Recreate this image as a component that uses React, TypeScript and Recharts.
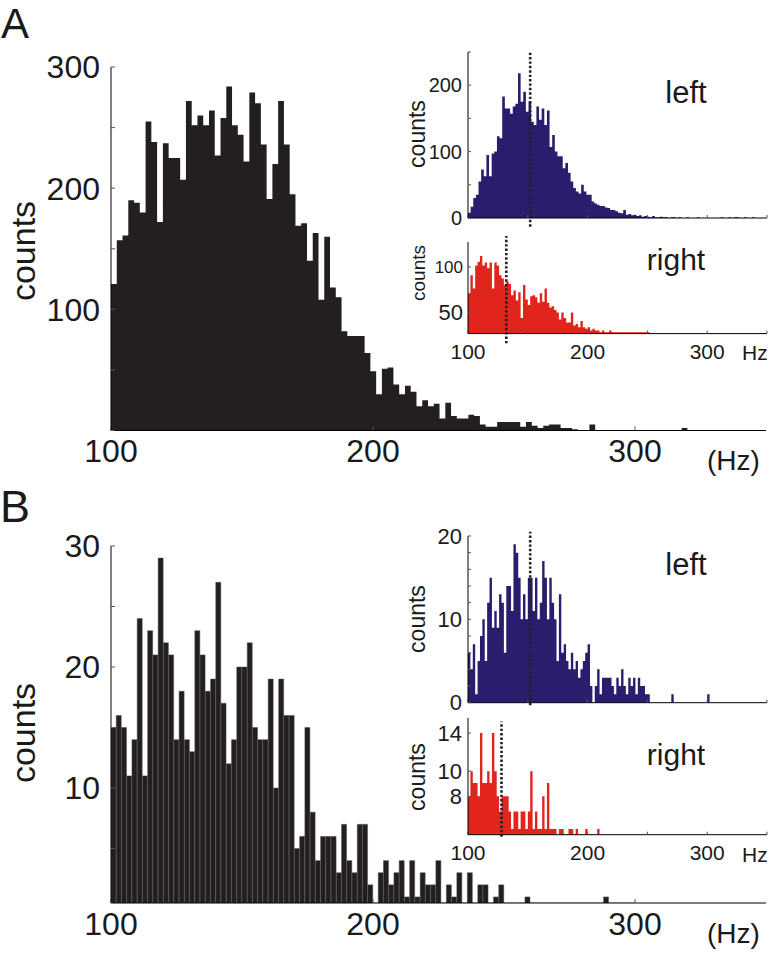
import React from 'react';
import { ComposedChart, Bar, Area, XAxis, YAxis, ReferenceLine } from 'recharts';

const FONT = '"Liberation Sans", Arial, Helvetica, sans-serif';
const INK = '#1a1a1a';

// #region histogram counts
// panel A uses 2.2 Hz bins, panel B and the red insets 2 Hz bins (all start at 100 Hz)
const aMainCounts = [
  121, 157, 161, 190, 188, 180, 255, 238, 172, 237,
  225, 225, 207, 272, 252, 260, 252, 264, 227, 258,
  284, 252, 244, 222, 279, 270, 236, 191, 220, 272,
  236, 195, 169, 171, 140, 163, 108, 160, 118, 110,
  82, 78, 78, 78, 64, 49, 30, 51, 52, 38,
  30, 37, 32, 20, 25, 20, 22, 10, 23, 12,
  10, 10, 13, 12, 5, 3, 3, 7, 7, 7,
  7, 3, 7, 4, 2, 4, 5, 5, 2, 2,
  1, 0, 0, 5, 0, 0, 0, 0, 0, 0,
  0, 0, 0, 0, 0, 0, 0, 0, 0, 2,
];
const aLeftCounts = [
  8, 17, 30, 35, 55, 73, 63, 95, 63, 97,
  100, 123, 120, 183, 165, 165, 157, 168, 172, 218,
  175, 190, 160, 175, 145, 140, 168, 148, 165, 140,
  162, 107, 125, 100, 93, 93, 75, 83, 68, 55,
  45, 40, 37, 50, 40, 35, 35, 25, 22, 20,
  18, 18, 16, 15, 12, 12, 10, 8, 7, 12,
  5, 6, 4, 5, 3, 4, 2, 3, 2, 1,
  3, 1, 1, 2, 1, 1, 0, 1, 1, 0,
  1, 0, 0, 1, 0, 0, 0, 1, 0, 0,
  0, 0, 0, 0, 0, 0, 1, 0, 0, 1,
  0, 1, 1, 0, 0, 1, 0, 0, 1, 0,
  0, 0,
];
const aRightCounts = [
  67, 88, 72, 102, 108, 118, 102, 107, 98, 107,
  72, 107, 102, 88, 84, 76, 80, 77, 65, 70,
  60, 68, 46, 76, 61, 56, 64, 65, 63, 58,
  67, 59, 72, 58, 54, 55, 52, 50, 45, 50,
  46, 43, 43, 50, 41, 42, 40, 44, 40, 39,
  40, 38, 39, 38, 38, 37, 38, 37, 37, 38,
  37, 37, 37, 37, 37, 37, 37, 37, 37, 37,
  37, 37, 37, 37, 37, 37,
];
const bMainCounts = [
  15, 16, 15, 11, 14, 24, 11, 23, 21, 29,
  22, 21, 14, 18, 14, 13, 23, 21, 18, 19,
  27, 17, 12, 14, 20, 20, 22, 15, 14, 14,
  19, 10, 19, 16, 16, 5, 6, 15, 8, 4,
  6, 6, 6, 3, 7, 4, 3, 7, 7, 2,
  0, 3, 4, 2, 3, 4, 1, 4, 1, 3,
  2, 2, 4, 0, 2, 1, 3, 0, 3, 0,
  2, 2, 0, 1, 2, 0, 0, 0, 0, 1,
  0, 0, 0, 0, 0, 0, 0, 0, 0, 0,
  0, 0, 0, 0, 1, 0, 0, 0, 0, 0,
];
const bLeftCounts = [
  6, 4, 7, 1, 5, 8, 10, 5, 12, 15,
  9, 11, 9, 13, 12, 6, 14, 14, 11, 19,
  18, 15, 10, 13, 10, 15, 15, 11, 15, 10,
  12, 17, 15, 10, 15, 12, 10, 5, 13, 6,
  7, 5, 4, 6, 4, 5, 3, 4, 5, 6,
  7, 2, 0, 2, 4, 1, 3, 3, 3, 3,
  2, 1, 3, 2, 4, 2, 1, 3, 2, 3,
  1, 3, 2, 2, 1, 1, 0, 0, 0, 0,
  0, 0, 0, 0, 0, 1, 0, 0, 0, 0,
  0, 0, 0, 0, 0, 0, 0, 0, 0, 0,
  1,
];
const bRightCounts = [
  8, 10, 9, 9, 8, 14, 9, 9, 10, 9,
  14, 10, 8, 7, 8, 8, 8, 7, 6, 7,
  7, 6, 7, 7, 6, 7, 10, 6, 7, 6,
  6, 8, 6, 9, 6, 6, 6, 5, 6, 6,
  5, 5, 6, 6, 5, 6, 5, 5, 5, 6,
  5, 5, 5, 5, 6,
];
// #endregion

// dotted marker positions (Hz)
const markers = { aLeft: 152, aRight: 132, bLeft: 152, bRight: 128 };

const mainXTicks = [100, 200, 300];
const insetXTicks = [100, 150, 200, 250, 300, 350];

// bars: one point per bin centre
const toBins = (counts: number[], start: number, width: number) =>
  counts.map((c, i) => ({ f: start + (i + 0.5) * width, c }));

// step outline: one point per bin edge, last bin closed on its right edge
const toSteps = (counts: number[], start: number, width: number) => [
  ...counts.map((c, i) => ({ f: start + i * width, c })),
  { f: start + counts.length * width, c: counts[counts.length - 1] },
];

type Rect = { x: number; y: number; w: number; h: number };
type Pad = { left: number; top: number; right: number; bottom: number };

type HistProps = {
  plot: Rect;
  pad: Pad;
  kind: 'bar' | 'step';
  data: { f: number; c: number }[];
  fill: string;
  stroke?: string;
  strokeWidth?: number;
  yDomain: [number, number];
  yTicks: number[];
  yLabel: (v: number) => string;
  yScale?: 'linear' | 'log';
  yFont: number;
  yTick?: any;
  xTicks: number[];
  xLabel: (v: number) => string;
  xFont: number;
  tickIn: number;
  yMargin: number;
  xMargin: number;
  marker?: { f: number; y0: number; y1: number };
};

const Hist = (p: HistProps) => {
  const width = p.pad.left + p.plot.w + p.pad.right;
  const height = p.pad.top + p.plot.h + p.pad.bottom;
  return (
    <div style={{ position: 'absolute', left: p.plot.x - p.pad.left, top: p.plot.y - p.pad.top }}>
      <ComposedChart
        width={width}
        height={height}
        data={p.data}
        margin={{ top: p.pad.top, right: p.pad.right, left: 0, bottom: 0 }}
        barCategoryGap={0}
        barGap={0}
      >
        <XAxis
          dataKey="f"
          type="number"
          domain={[100, 350]}
          allowDataOverflow
          ticks={p.xTicks}
          interval={0}
          tickFormatter={p.xLabel}
          height={p.pad.bottom}
          tickSize={-p.tickIn}
          tickMargin={p.xMargin + p.tickIn}
          stroke="#000"
          tickLine={{ stroke: '#555' }}
          tick={{ fontSize: p.xFont, fontFamily: FONT, fill: INK }}
        />
        <YAxis
          type="number"
          scale={p.yScale ?? 'linear'}
          domain={p.yDomain}
          allowDataOverflow
          ticks={p.yTicks}
          interval={0}
          tickFormatter={p.yLabel}
          width={p.pad.left}
          tickSize={-p.tickIn}
          tickMargin={p.yMargin + p.tickIn}
          stroke="#000"
          tickLine={{ stroke: '#555' }}
          tick={p.yTick ?? { fontSize: p.yFont, fontFamily: FONT, fill: INK }}
        />
        {p.kind === 'bar' ? (
          <Bar
            dataKey="c"
            fill={p.fill}
            stroke={p.stroke ?? 'none'}
            strokeWidth={p.strokeWidth ?? 0}
            isAnimationActive={false}
          />
        ) : (
          <Area
            type="stepAfter"
            dataKey="c"
            fill={p.fill}
            fillOpacity={1}
            stroke="none"
            dot={false}
            activeDot={false}
            isAnimationActive={false}
          />
        )}
        {p.marker && (
          <ReferenceLine
            segment={[
              { x: p.marker.f, y: p.marker.y0 },
              { x: p.marker.f, y: p.marker.y1 },
            ]}
            ifOverflow="visible"
            stroke="#222"
            strokeWidth={2.6}
            strokeDasharray="2.4 2"
          />
        )}
      </ComposedChart>
    </div>
  );
};

const SmallHundredTick = (props: any) => {
  const { x, y, payload } = props;
  const size = payload.value === 100 ? 17 : 22;
  return (
    <text x={x} y={y} dy={size * 0.36} textAnchor="end" fontSize={size} fontFamily={FONT} fill={INK}>
      {payload.value}
    </text>
  );
};

const BLACK = '#231f20';
const NAVY = '#2a1d6d';
const RED = '#e1251c';

const mainPad = { left: 80, top: 20, right: 4, bottom: 56 };
const insetPad = { left: 50, top: 12, right: 3, bottom: 34 };
const noLabel = () => '';

export default function App() {
  const aMain = toSteps(aMainCounts, 100, 2.2);
  const aLeft = toSteps(aLeftCounts, 100, 2.2);
  const aRight = toSteps(aRightCounts, 100, 2);
  const bMain = toBins(bMainCounts, 100, 2);
  const bLeft = toSteps(bLeftCounts, 100, 2);
  const bRight = toSteps(bRightCounts, 100, 2);

  const hundreds = (v: number) => (v > 0 && v % 100 === 0 ? String(v) : '');
  const tens = (v: number) => (v % 10 === 0 ? String(v) : '');

  return (
    <div style={{ position: 'absolute', left: 0, top: 0, width: 770, height: 957, background: '#fff', overflow: 'hidden' }}>
      <Hist
        plot={{ x: 111, y: 66.5, w: 655, h: 363.5 }}
        pad={mainPad}
        kind="step"
        data={aMain}
        fill={BLACK}
        yDomain={[0, 300]}
        yTicks={[0, 50, 100, 150, 200, 250, 300]}
        yLabel={hundreds}
        yFont={32}
        xTicks={mainXTicks}
        xLabel={(v) => String(v)}
        xFont={32}
        tickIn={4}
        yMargin={11}
        xMargin={9}
      />
      <Hist
        plot={{ x: 111, y: 546, w: 655, h: 357 }}
        pad={mainPad}
        kind="bar"
        data={bMain}
        fill={BLACK}
        stroke="#4f4b4b"
        strokeWidth={0.5}
        yDomain={[0.5, 30]}
        yTicks={[5, 10, 15, 20, 25, 30]}
        yLabel={tens}
        yFont={32}
        xTicks={mainXTicks}
        xLabel={(v) => String(v)}
        xFont={32}
        tickIn={4}
        yMargin={11}
        xMargin={9}
      />
      <Hist
        plot={{ x: 467.7, y: 51.7, w: 299, h: 166 }}
        pad={{ ...insetPad, bottom: 14 }}
        kind="step"
        data={aLeft}
        fill={NAVY}
        yDomain={[0, 250]}
        yTicks={[0, 50, 100, 150, 200, 250]}
        yLabel={(v) => (v % 100 === 0 ? String(v) : '')}
        yFont={20}
        xTicks={insetXTicks}
        xLabel={noLabel}
        xFont={20}
        tickIn={3}
        yMargin={6}
        xMargin={8}
        marker={{ f: markers.aLeft, y0: -13, y1: 252 }}
      />
      <Hist
        plot={{ x: 467.7, y: 241.7, w: 299, h: 91.6 }}
        pad={insetPad}
        kind="step"
        data={aRight}
        fill={RED}
        yScale="log"
        yDomain={[36.3, 146]}
        yTicks={[50, 100]}
        yLabel={(v) => String(v)}
        yTick={<SmallHundredTick />}
        yFont={22}
        xTicks={insetXTicks}
        xLabel={hundreds}
        xFont={21}
        tickIn={3}
        yMargin={5}
        xMargin={10}
        marker={{ f: markers.aRight, y0: 31.3, y1: 160 }}
      />
      <Hist
        plot={{ x: 467.7, y: 536, w: 299, h: 166.7 }}
        pad={{ ...insetPad, bottom: 14 }}
        kind="step"
        data={bLeft}
        fill={NAVY}
        yDomain={[0, 20]}
        yTicks={[0, 2, 4, 6, 8, 10, 12, 14, 16, 18, 20]}
        yLabel={tens}
        yFont={22}
        xTicks={insetXTicks}
        xLabel={noLabel}
        xFont={20}
        tickIn={3}
        yMargin={6}
        xMargin={8}
        marker={{ f: markers.bLeft, y0: -0.3, y1: 20.5 }}
      />
      <Hist
        plot={{ x: 467.7, y: 718.3, w: 299, h: 116.7 }}
        pad={insetPad}
        kind="step"
        data={bRight}
        fill={RED}
        yScale="log"
        yDomain={[5.7, 16]}
        yTicks={[8, 10, 14]}
        yLabel={(v) => String(v)}
        yFont={22}
        xTicks={insetXTicks}
        xLabel={hundreds}
        xFont={21}
        tickIn={3}
        yMargin={6}
        xMargin={10}
        marker={{ f: markers.bRight, y0: 5.6, y1: 15.5 }}
      />
      <svg
        width={770}
        height={957}
        style={{ position: 'absolute', left: 0, top: 0, pointerEvents: 'none' }}
        fontFamily={FONT}
        fill={INK}
      >
        <text x={1} y={38} fontSize={42}>A</text>
        <text x={0} y={522} fontSize={45}>B</text>
        <text x={35} y={251} fontSize={34} textAnchor="middle" transform="rotate(-90 35 251)">counts</text>
        <text x={35} y={733} fontSize={34} textAnchor="middle" transform="rotate(-90 35 733)">counts</text>
        <text x={425} y={134} fontSize={23} textAnchor="middle" transform="rotate(-90 425 134)">counts</text>
        <text x={425} y={273} fontSize={19} textAnchor="middle" transform="rotate(-90 425 273)">counts</text>
        <text x={425} y={619} fontSize={23} textAnchor="middle" transform="rotate(-90 425 619)">counts</text>
        <text x={425} y={777} fontSize={23} textAnchor="middle" transform="rotate(-90 425 777)">counts</text>
        <text x={686} y={103} fontSize={31} textAnchor="middle">left</text>
        <text x={686} y={575} fontSize={31} textAnchor="middle">left</text>
        <text x={676} y={270} fontSize={30} textAnchor="middle">right</text>
        <text x={676} y={765} fontSize={30} textAnchor="middle">right</text>
        <text x={707} y={470} fontSize={28}>(Hz)</text>
        <text x={707} y={943} fontSize={28}>(Hz)</text>
        <text x={742} y={360} fontSize={21}>Hz</text>
        <text x={742} y={862} fontSize={21}>Hz</text>
      </svg>
    </div>
  );
}
